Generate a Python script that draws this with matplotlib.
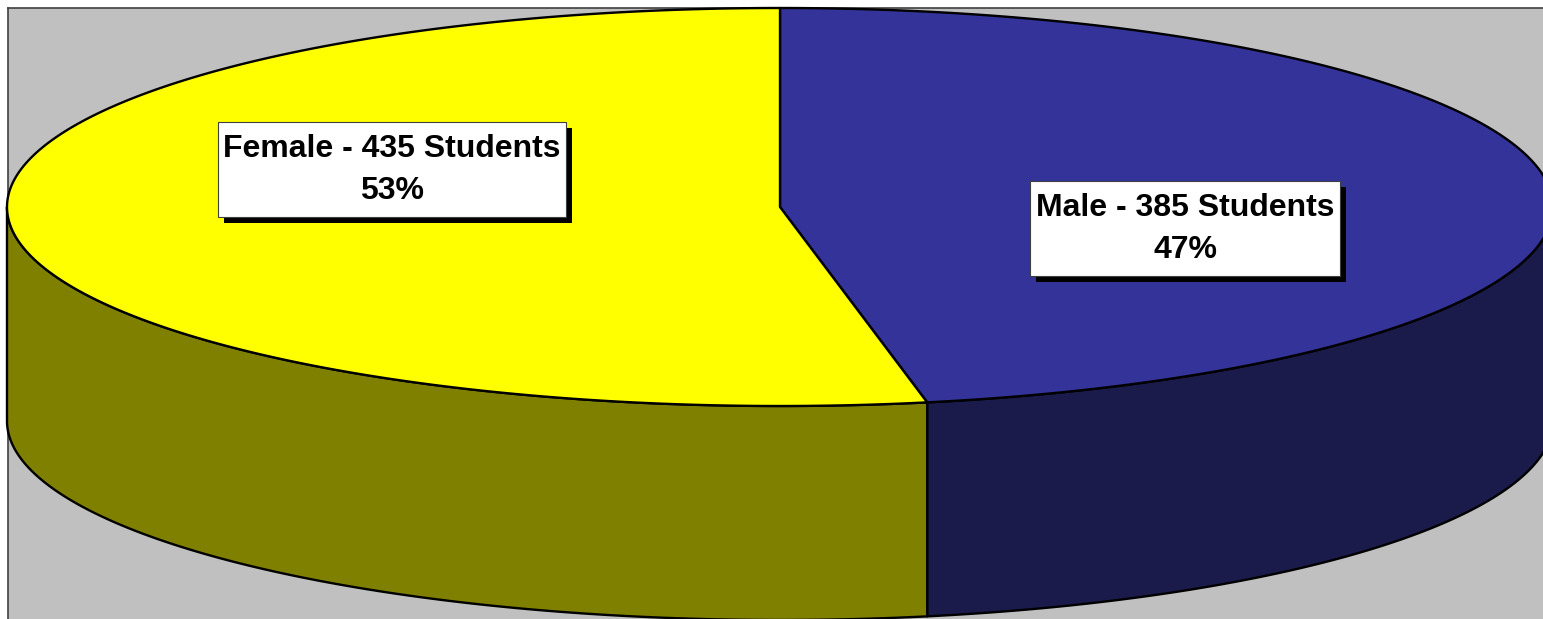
import matplotlib.pyplot as plt
import numpy as np
from matplotlib.patches import Polygon, Rectangle

# data
labels = ["Male", "Female"]
students = [385, 435]
top_colors = ["#333399", "#FFFF00"]
side_colors = ["#1B1B4B", "#808000"]

# pie geometry in pixel units
W, H = 1543, 619
CX, CY = 780, 207
RX, RY = 773, 199
DEPTH = 214
LABEL_POS = {"Male": (1185, 229), "Female": (392, 170)}


def rim(t0, t1, n=300):
    # angles measured clockwise from 12 o'clock
    t = np.linspace(t0, t1, n)
    return CX + RX * np.sin(t), CY - RY * np.cos(t)


fig = plt.figure(figsize=(W / 100, H / 100), dpi=100)
ax = fig.add_axes([0, 0, 1, 1])
ax.set_xlim(0, W)
ax.set_ylim(H, 0)
ax.axis("off")

ax.add_patch(Rectangle((8, 8), W, H, facecolor="#C0C0C0", edgecolor="none", zorder=0))
ax.plot([8, 8], [8, H + 5], color="#404040", lw=1.2, zorder=1)
ax.plot([8, W + 5], [8, 8], color="#404040", lw=1.2, zorder=1)

total = sum(students)
fracs = [v / total for v in students]
bounds = np.concatenate([[0], np.cumsum(fracs)]) * 2 * np.pi

# side walls (only the front half, pi/2 .. 3pi/2, is visible)
for i in range(len(students)):
    a0, a1 = max(bounds[i], np.pi / 2), min(bounds[i + 1], 3 * np.pi / 2)
    if a1 <= a0:
        continue
    x, y = rim(a0, a1)
    xs = np.concatenate([x, x[::-1]])
    ys = np.concatenate([y, y[::-1] + DEPTH])
    ax.add_patch(Polygon(np.column_stack([xs, ys]), closed=True,
                         facecolor=side_colors[i], edgecolor="black", lw=1.7,
                         joinstyle="round", zorder=2))

# top faces
for i in range(len(students)):
    x, y = rim(bounds[i], bounds[i + 1])
    xs = np.concatenate([[CX], x])
    ys = np.concatenate([[CY], y])
    ax.add_patch(Polygon(np.column_stack([xs, ys]), closed=True,
                         facecolor=top_colors[i], edgecolor="black", lw=1.7,
                         joinstyle="round", zorder=3))

# labels with white box and black drop shadow
texts = []
for i, name in enumerate(labels):
    px, py = LABEL_POS[name]
    t = ax.text(px, py, f"{name} - {students[i]} Students\n{fracs[i]:.0%}",
                ha="center", va="center", fontsize=23, fontweight="bold",
                family="Liberation Sans", linespacing=1.5, zorder=6)
    texts.append(t)

fig.canvas.draw()
renderer = fig.canvas.get_renderer()
inv = ax.transData.inverted()
for t in texts:
    bb = t.get_window_extent(renderer)
    (x0, y1), (x1, y0) = inv.transform([[bb.x0, bb.y0], [bb.x1, bb.y1]])
    px, py = t.get_position()
    bw = (x1 - x0) + 11
    bh = 95
    left, top = px - bw / 2, py - 1 - bh / 2
    ax.add_patch(Rectangle((left + 6, top + 6), bw, bh, facecolor="black",
                           edgecolor="none", zorder=4))
    ax.add_patch(Rectangle((left, top), bw, bh, facecolor="white",
                           edgecolor="#404040", lw=0.8, zorder=5))

fig.savefig("out.png", dpi=100)
